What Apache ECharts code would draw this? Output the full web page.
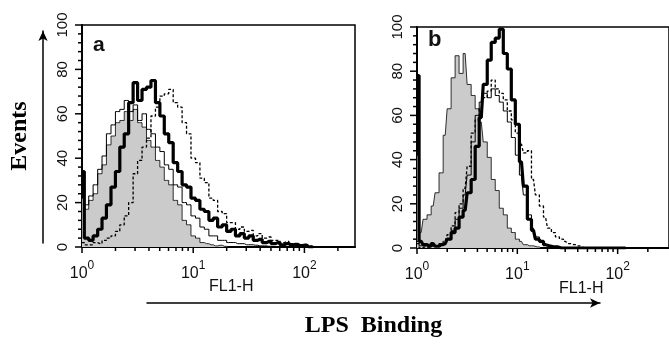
<!DOCTYPE html>
<html>
<head>
<meta charset="utf-8">
<script src="https://cdn.jsdelivr.net/npm/echarts@6/dist/echarts.min.js"></script>
<style>
  html, body { margin: 0; padding: 0; background: #fff; }
  #chart { width: 669px; height: 344px; }
</style>
</head>
<body>
<div id="chart"></div>
<script>
// FL1-H channel centres (log spaced bins)
const bins = [
  1.00, 1.10, 1.20, 1.32, 1.45, 1.58, 1.74, 1.91, 2.09, 2.29,
  2.51, 2.75, 3.02, 3.31, 3.63, 3.98, 4.37, 4.79, 5.25, 5.75,
  6.31, 6.92, 7.59, 8.32, 9.12, 10.0, 11.0, 12.0, 13.2, 14.5,
  15.8, 17.4, 19.1, 20.9, 22.9, 25.1, 27.5, 30.2, 33.1, 36.3,
  39.8, 43.7, 47.9, 52.5, 57.5, 63.1, 69.2, 75.9, 83.2, 91.2,
  100, 110, 120
]
const xMajorTicks = [1, 10, 100]
const xMinorTicks = [2, 3, 4, 5, 6, 7, 8, 9, 20, 30, 40, 50, 60, 70, 80, 90, 200]
const yMajorTicks = [0, 20, 40, 60, 80, 100]
const yMinorTicks = [4, 8, 12, 16, 24, 28, 32, 36, 44, 48, 52, 56, 64, 68, 72, 76, 84, 88, 92, 96]
const xMaxA = 285
const xMaxB = 325

// panel a
const grayA = [
  22, 17, 21, 24, 33, 37, 46, 50, 56, 57,
  61, 57, 62, 56, 54, 48, 45, 39, 36, 30,
  28, 21, 19, 12, 10, 5, 4, 2, 1.5, 1,
  0.5, 0.8, 0.3, 0, 0, 0, 0, 0, 0, 0,
  0, 0, 0, 0, 0, 0, 0, 0, 0, 0,
  0, 0, 0
]
const thinA = [
  25, 19, 23, 28, 35, 41, 51, 55, 61, 62,
  66, 61, 64, 57, 60, 53, 51, 45, 43, 37,
  35, 28, 27, 20, 19, 14, 13, 9, 8, 5,
  5, 3, 3, 2, 2, 1.5, 1.5, 1, 1, 0.8,
  0.5, 0.5, 0.3, 0, 0, 0, 0, 0, 0, 0,
  0, 0, 0
]
const thickA = [
  34, 4, 3, 5, 8, 13, 19, 27, 34, 45,
  51, 65, 74, 66, 71, 72, 75, 65, 59, 51,
  47, 38, 34, 28, 27, 22, 21, 17, 16, 12,
  13, 9, 10, 7, 8, 5, 6, 4, 5, 3,
  3.5, 2, 2.5, 1.5, 2, 1, 1.5, 0.8, 1.2, 0.6,
  0.8, 0, 0
]
const dashedA = [
  2, 1, 1, 2, 1.5, 3, 4, 5, 7, 10,
  14, 20, 33, 39, 45, 49, 59, 63, 68, 69,
  71, 65, 63, 56, 51, 40, 38, 31, 29, 22,
  21, 16, 15, 11, 11, 8, 9, 7, 7.5, 5,
  6, 4, 4.5, 3, 3, 2, 2.5, 1.5, 1.5, 1,
  1, 0.5, 0
]

// panel b
const grayB = [
  42, 7, 13, 15, 19, 25, 34, 51, 63, 77,
  87, 79, 88, 74, 69, 63, 57, 48, 41, 31,
  26, 18, 15, 9, 7, 4, 3, 1.5, 1, 1,
  0.5, 0, 0, 0, 0, 0, 0, 0, 0, 0,
  0, 0, 0, 0, 0, 0, 0, 0, 0, 0,
  0, 0, 0
]
const thinB = [
  3, 1, 1, 0.5, 1, 1, 1.5, 2, 4, 8,
  13, 18, 24, 33, 48, 60, 66, 70, 68, 72,
  69, 66, 62, 57, 50, 42, 33, 24, 15, 9,
  5, 3, 2, 1, 0.5, 0, 0, 0, 0, 0,
  0, 0, 0, 0, 0, 0, 0, 0, 0, 0,
  0, 0, 0
]
const thickB = [
  78, 3, 1.5, 1, 2, 0.8, 1.5, 2, 4, 7,
  9, 14, 17, 25, 31, 46, 59, 74, 85, 93,
  95, 99, 88, 81, 67, 56, 39, 28, 13, 8,
  4, 3, 1.5, 1, 0.5, 0.5, 0, 0, 0, 0,
  0, 0, 0, 0, 0, 0, 0, 0, 0, 0,
  0, 0, 0
]
const dashedB = [
  2, 0, 0.5, 0, 1, 1, 2, 3, 6, 10,
  16, 20, 27, 37, 52, 58, 63, 68, 71, 76,
  72, 70, 67, 62, 58, 52, 47, 43, 44, 31,
  24, 19, 14, 9, 7, 5, 4, 3, 2, 1.5,
  1, 0.5, 0, 0, 0, 0, 0, 0, 0, 0,
  0, 0, 0
]

const FONT = 'Liberation Sans'
const SERIF = 'Liberation Serif'

const chart = echarts.init(document.getElementById('chart'))

function pairs(vals) {
  return bins.map((b, i) => [b, vals[i]])
}

function decadeLabel(v) {
  const e = Math.round(Math.log10(v))
  if (Math.abs(Math.log10(v) - e) > 0.01) return ''
  return '{b|10}{s|' + e + '}'
}

function logAxis(grid, max) {
  return {
    type: 'log',
    gridIndex: grid,
    logBase: 10,
    min: 1,
    max: max,
    position: 'bottom',
    axisLine: { show: true, onZero: false, lineStyle: { color: '#000', width: 2 } },
    axisTick: { show: false },
    axisLabel: {
      margin: 13,
      showMaxLabel: false,
      formatter: decadeLabel,
      rich: {
        b: { fontSize: 16, fontFamily: FONT, color: '#111', lineHeight: 22, verticalAlign: 'bottom' },
        s: { fontSize: 12, fontFamily: FONT, color: '#111', lineHeight: 22, verticalAlign: 'top' }
      }
    },
    splitLine: { show: false }
  }
}

function yAxis(grid, name) {
  return {
    type: 'value',
    gridIndex: grid,
    min: 0,
    max: 100,
    interval: 20,
    name: name || '',
    nameLocation: 'middle',
    nameRotate: 90,
    nameGap: 50,
    nameTextStyle: { fontSize: 24, fontWeight: 'bold', fontFamily: SERIF, color: '#000' },
    axisLine: { show: true, lineStyle: { color: '#000', width: 2 } },
    axisTick: { show: false },
    axisLabel: { rotate: 90, margin: 12, fontSize: 15, fontFamily: FONT, color: '#111' },
    splitLine: { show: false }
  }
}

function hiddenAxis(grid) {
  return { type: 'value', gridIndex: grid, min: 0, max: 1, show: false }
}

// bare axis line with an arrow head, used for the "Events" and "LPS Binding" arrows
function arrowAxis(grid, name) {
  return {
    type: 'value',
    gridIndex: grid,
    min: 0,
    max: 1,
    name: name || '',
    nameLocation: 'middle',
    nameGap: 11,
    nameTextStyle: { fontSize: 24, fontWeight: 'bold', fontFamily: SERIF, color: '#000' },
    axisLine: { show: true, onZero: false, symbol: ['none', 'arrow'], symbolSize: [7, 10], lineStyle: { color: '#000', width: 1.5 } },
    axisTick: { show: false },
    axisLabel: { show: false },
    splitLine: { show: false }
  }
}

function histSeries(xIdx, yIdx, vals, kind) {
  const s = {
    type: 'line',
    xAxisIndex: xIdx,
    yAxisIndex: yIdx,
    data: pairs(vals),
    step: 'middle',
    showSymbol: false,
    symbol: 'none',
    silent: true,
    lineStyle: { color: '#000', width: 1 }
  }
  if (kind === 'gray') {
    s.lineStyle.width = 0.8
    s.areaStyle = { color: '#cbcbcb', opacity: 1 }
  } else if (kind === 'thick') {
    s.lineStyle.width = 3.2
  } else if (kind === 'dashed') {
    s.lineStyle.width = 1.3
    s.lineStyle.type = [3, 2]
  }
  return s
}

// axis ticks placed through the panel's own scales (outward from the axis line)
function tickSeries(xIdx, yIdx, values, dir, len) {
  return {
    type: 'custom',
    xAxisIndex: xIdx,
    yAxisIndex: yIdx,
    silent: true,
    clip: false,
    z: 5,
    data: values.map(v => (dir === 'x' ? [v, 0] : [1, v])),
    encode: { x: 0, y: 1 },
    renderItem: function (params, api) {
      const p = api.coord([api.value(0), api.value(1)])
      const shape = dir === 'x'
        ? { x1: p[0], y1: p[1], x2: p[0], y2: p[1] + len }
        : { x1: p[0], y1: p[1], x2: p[0] - len, y2: p[1] }
      return { type: 'line', shape: shape, style: { stroke: '#000', lineWidth: 1.5 } }
    }
  }
}

function label(text, left, top, size, bold) {
  return {
    text: text,
    left: left,
    top: top,
    padding: 0,
    textStyle: { fontSize: size, fontWeight: bold ? 'bold' : 'normal', fontFamily: FONT, color: '#111' }
  }
}

const option = {
  animation: false,
  title: [
    label('a', 93, 35, 21, true),
    label('b', 428, 29, 22, true),
    label('FL1-H', 209, 279, 16, false),
    label('FL1-H', 559, 281, 16, false)
  ],
  grid: [
    { left: 82, top: 25, width: 273, height: 222, show: true, borderColor: '#000', borderWidth: 1.5 },
    { left: 417, top: 27, width: 256, height: 221, show: true, borderColor: '#000', borderWidth: 1.5 },
    { left: 43, top: 31, width: 10, height: 212 },
    { left: 147, top: 283, width: 453, height: 20 }
  ],
  xAxis: [logAxis(0, xMaxA), logAxis(1, xMaxB), hiddenAxis(2), arrowAxis(3, 'LPS  Binding')],
  yAxis: [yAxis(0, 'Events'), yAxis(1), arrowAxis(2), hiddenAxis(3)],
  series: [
    histSeries(0, 0, grayA, 'gray'),
    histSeries(0, 0, thinA, 'thin'),
    histSeries(0, 0, dashedA, 'dashed'),
    histSeries(0, 0, thickA, 'thick'),
    histSeries(1, 1, grayB, 'gray'),
    histSeries(1, 1, thinB, 'thin'),
    histSeries(1, 1, dashedB, 'dashed'),
    histSeries(1, 1, thickB, 'thick'),
    tickSeries(0, 0, xMajorTicks, 'x', 6),
    tickSeries(0, 0, xMinorTicks, 'x', 4),
    tickSeries(0, 0, yMajorTicks, 'y', 7),
    tickSeries(0, 0, yMinorTicks, 'y', 4),
    tickSeries(1, 1, xMajorTicks, 'x', 6),
    tickSeries(1, 1, xMinorTicks, 'x', 4),
    tickSeries(1, 1, yMajorTicks, 'y', 7),
    tickSeries(1, 1, yMinorTicks, 'y', 4)
  ]
}

chart.setOption(option)
</script>
</body>
</html>
